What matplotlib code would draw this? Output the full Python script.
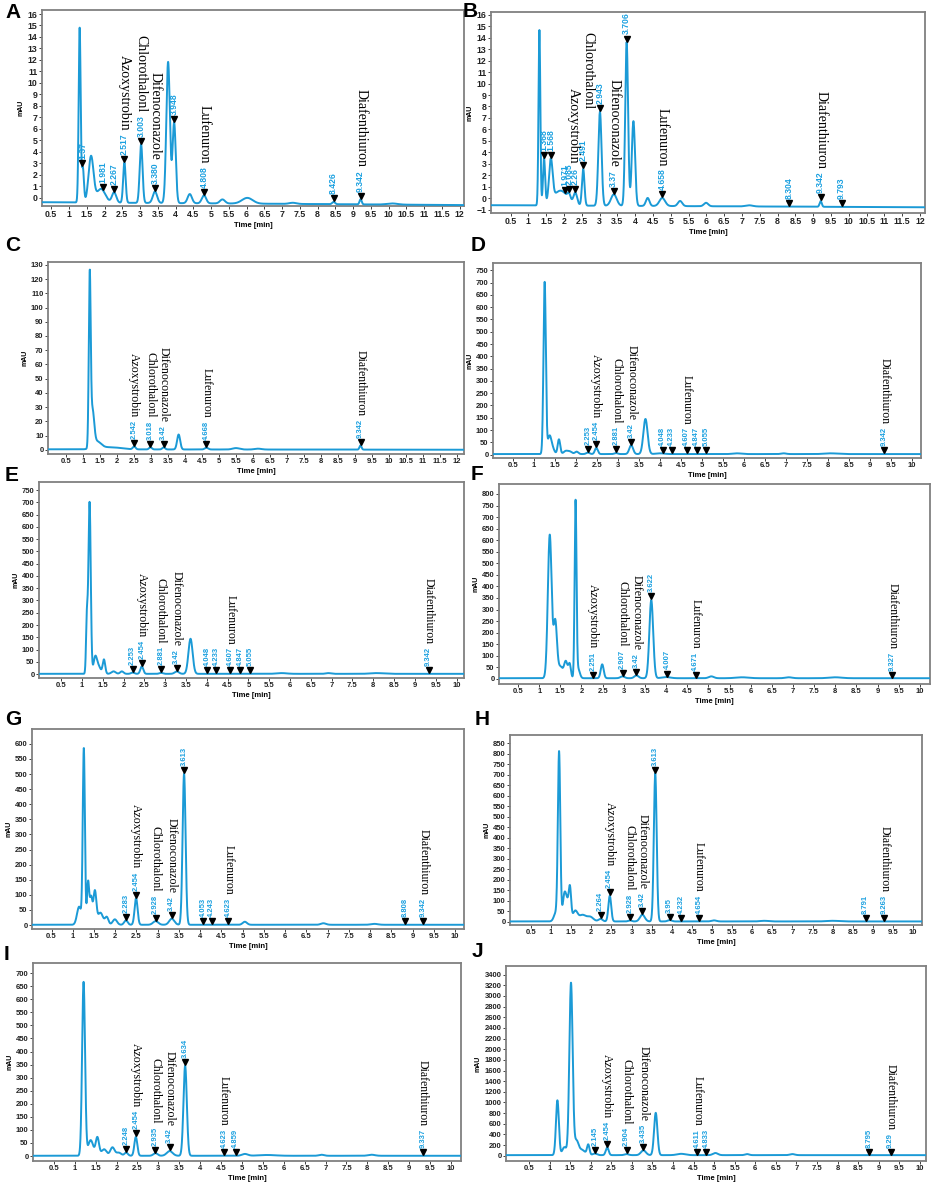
import numpy as np
import matplotlib
matplotlib.use("Agg")
import matplotlib.pyplot as plt
from matplotlib.transforms import offset_copy

TRACE_COLOR = "#1b9ad6"
LABEL_COLOR = "#1aa0e0"
FRAME_COLOR = "#808080"
NAMES = ["Azoxystrobin", "Chlorothalonl", "Difenoconazole", "Lufenuron", "Diafenthiuron"]

# ── Peak tables: retention time, height, width (min) ──
A_RT = [1.30, 1.39, 1.62, 1.90, 2.27, 2.56, 3.03, 3.42, 3.79, 3.96, 4.40, 4.80, 5.32, 6.02, 7.30, 8.45, 9.21, 10.1]
A_H = [15.2, 3.0, 4.0, 1.2, 0.9, 3.5, 5.1, 1.0, 12.3, 7.0, 0.8, 0.7, 0.35, 0.5, 0.1, 0.2, 0.45, 0.1]
A_W = [0.028, 0.03, 0.07, 0.12, 0.06, 0.035, 0.04, 0.06, 0.05, 0.045, 0.06, 0.06, 0.07, 0.15, 0.1, 0.04, 0.03, 0.15]
A_BASE = (-0.4, -0.65)
A_MARK_T = [1.38, 1.97, 2.27, 2.56, 3.03, 3.42, 3.96, 4.80, 8.45, 9.21]
A_MARK_LBL = ["1.37", "1.981", "2.267", "2.517", "3.003", "3.380", "3.948", "4.808", "8.426", "9.342"]
A_NAME_IDX = [3, 4, 5, 7, 9]

B_RT = [1.31, 1.44, 1.63, 1.90, 2.14, 2.32, 2.54, 3.01, 3.40, 3.76, 3.95, 4.35, 4.76, 5.26, 5.99, 7.2, 9.21]
B_H = [15.3, 4.0, 3.6, 1.3, 0.5, 1.0, 3.2, 8.2, 1.0, 14.3, 7.4, 0.7, 0.7, 0.45, 0.3, 0.1, 0.5]
B_W = [0.025, 0.03, 0.05, 0.2, 0.04, 0.05, 0.035, 0.045, 0.08, 0.04, 0.045, 0.05, 0.08, 0.06, 0.06, 0.1, 0.03]
B_BASE = (-0.62, -0.8)
B_MARK_T = [1.44, 1.63, 2.03, 2.14, 2.32, 2.54, 3.01, 3.40, 3.76, 4.76, 8.32, 9.21, 9.80]
B_MARK_LBL = ["1.368", "1.568", "1.971", "2.085", "2.26", "2.491", "2.943", "3.37", "3.706", "4.658", "8.304", "9.342", "9.793"]
B_NAME_IDX = [5, 6, 7, 9, 11]

C_RT = [1.19, 1.27, 1.40, 1.80, 2.50, 2.98, 3.37, 3.81, 4.63, 5.50, 6.15, 9.17]
C_H = [118, 25, 5, 1.5, 2.0, 1.5, 1.5, 10.5, 1.2, 1.0, 0.6, 3.0]
C_W = [0.028, 0.05, 0.12, 0.3, 0.04, 0.04, 0.04, 0.045, 0.05, 0.1, 0.1, 0.03]
C_BASE = (0.3, 0.0)
C_MARK_T = [2.50, 2.98, 3.37, 4.63, 9.17]
C_MARK_LBL = ["2.542", "3.018", "3.42", "4.668", "9.342"]
C_NAME_IDX = [0, 1, 2, 3, 4]

D_RT = [1.25, 1.36, 1.42, 1.59, 1.75, 1.85, 2.01, 2.28, 2.48, 2.95, 3.31, 3.65, 4.0, 5.83, 6.94, 8.06]
D_H = [700, 60, 30, 60, 12, 10, 10, 6, 25, 4, 36, 143, 3, 3, 3, 3]
D_W = [0.028, 0.04, 0.05, 0.03, 0.05, 0.05, 0.04, 0.04, 0.035, 0.04, 0.045, 0.05, 0.1, 0.1, 0.06, 0.15]
D_BASE = (2, 2)
D_MARK_T = [2.28, 2.48, 2.95, 3.31, 4.06, 4.27, 4.63, 4.87, 5.09, 9.34]
D_MARK_LBL = ["2.253", "2.454", "2.881", "3.42", "4.048", "4.233", "4.607", "4.847", "5.055", "9.342"]
D_NAME_IDX = [1, 2, 3, 6, 9]

E_RT = [1.12, 1.185, 1.32, 1.40, 1.53, 1.76, 1.96, 2.22, 2.44, 2.90, 3.28, 3.61, 5.80, 6.92, 8.08]
E_H = [220, 700, 65, 30, 58, 10, 10, 5, 30, 4, 10, 143, 3, 3, 3]
E_W = [0.02, 0.028, 0.04, 0.05, 0.03, 0.05, 0.04, 0.04, 0.035, 0.04, 0.05, 0.05, 0.12, 0.06, 0.15]
E_BASE = (1, 1)
E_MARK_T = [2.22, 2.44, 2.90, 3.28, 4.01, 4.22, 4.57, 4.81, 5.04, 9.33]
E_MARK_LBL = ["2.253", "2.454", "2.881", "3.42", "4.048", "4.233", "4.607", "4.847", "5.055", "9.342"]
E_NAME_IDX = [1, 2, 3, 6, 9]

F_RT = [1.25, 1.38, 1.50, 1.63, 1.72, 1.86, 1.92, 2.49, 2.97, 3.30, 3.65, 4.0, 5.07, 5.8, 6.9, 8.0]
F_H = [620, 240, 50, 70, 60, 760, 40, 60, 8, 12, 338, 5, 8, 4, 4, 4]
F_W = [0.045, 0.04, 0.06, 0.04, 0.03, 0.022, 0.04, 0.035, 0.05, 0.05, 0.045, 0.1, 0.06, 0.15, 0.08, 0.15]
F_BASE = (3, 3)
F_MARK_T = [2.27, 2.97, 3.30, 3.65, 4.03, 4.70, 9.35]
F_MARK_LBL = ["2.251", "2.907", "3.42", "3.622", "4.007", "4.671", "9.327"]
F_NAME_IDX = [0, 1, 2, 5, 6]

G_RT = [1.15, 1.26, 1.36, 1.43, 1.52, 1.65, 1.80, 1.99, 2.25, 2.49, 2.95, 3.33, 3.62, 5.05, 6.9, 8.1]
G_H = [60, 580, 140, 90, 110, 40, 25, 18, 15, 88, 12, 20, 500, 10, 5, 3]
G_W = [0.05, 0.025, 0.025, 0.03, 0.035, 0.06, 0.04, 0.05, 0.04, 0.035, 0.06, 0.06, 0.035, 0.05, 0.06, 0.08]
G_BASE = (1, 1)
G_MARK_T = [2.25, 2.49, 2.95, 3.33, 3.62, 4.07, 4.27, 4.66, 8.82, 9.25]
G_MARK_LBL = ["2.283", "2.454", "2.928", "3.42", "3.613", "4.053", "4.243", "4.623", "8.808", "9.342"]
G_NAME_IDX = [1, 2, 3, 7, 9]

H_RT = [1.12, 1.20, 1.33, 1.40, 1.47, 1.60, 1.78, 1.97, 2.23, 2.46, 2.96, 3.27, 3.59, 3.95, 5.05, 6.3, 8.0]
H_H = [40, 800, 120, 80, 150, 50, 30, 22, 12, 122, 5, 32, 705, 6, 5, 3, 3]
H_W = [0.05, 0.03, 0.04, 0.04, 0.03, 0.06, 0.08, 0.08, 0.05, 0.035, 0.04, 0.06, 0.035, 0.05, 0.06, 0.1, 0.15]
H_BASE = (1, 1)
H_MARK_T = [2.23, 2.46, 2.96, 3.27, 3.59, 3.95, 4.24, 4.68, 8.82, 9.28]
H_MARK_LBL = ["2.264", "2.454", "2.928", "3.42", "3.613", "3.95", "4.232", "4.654", "8.791", "9.263"]
H_NAME_IDX = [1, 2, 3, 7, 9]

I_RT = [1.21, 1.38, 1.54, 1.70, 1.90, 2.05, 2.23, 2.46, 2.93, 3.27, 3.64, 5.07, 5.6, 6.9, 8.1]
I_H = [665, 60, 70, 25, 32, 12, 12, 72, 10, 18, 345, 7, 3, 4, 4]
I_W = [0.035, 0.06, 0.04, 0.06, 0.05, 0.06, 0.04, 0.035, 0.05, 0.07, 0.04, 0.07, 0.2, 0.06, 0.08]
I_BASE = (1, 1)
I_MARK_T = [2.23, 2.46, 2.93, 3.27, 3.64, 4.57, 4.85, 9.33]
I_MARK_LBL = ["2.248", "2.454", "2.935", "3.42", "3.634", "4.623", "4.859", "9.337"]
I_NAME_IDX = [1, 2, 3, 5, 7]

J_RT = [1.19, 1.36, 1.52, 1.65, 1.78, 1.94, 2.10, 2.40, 2.87, 3.28, 3.58, 4.2, 5.03, 5.8, 6.9]
J_H = [1030, 150, 3230, 250, 100, 190, 30, 145, 20, 90, 795, 25, 40, 20, 20]
J_W = [0.035, 0.05, 0.04, 0.05, 0.08, 0.03, 0.05, 0.035, 0.05, 0.06, 0.04, 0.1, 0.06, 0.05, 0.06]
J_BASE = (10, 10)
J_MARK_T = [2.10, 2.40, 2.87, 3.28, 4.59, 4.80, 8.77, 9.29]
J_MARK_LBL = ["2.145", "2.454", "2.904", "3.435", "4.611", "4.833", "8.795", "9.29"]
J_NAME_IDX = [1, 2, 3, 4, 7]

# ── Layout: panel rectangles in pixels (left, top, right, bottom), axis limits ──
PANELS = [
    dict(tag="A", rt=A_RT, h=A_H, w=A_W, base=A_BASE, mt=A_MARK_T, ml=A_MARK_LBL, ni=A_NAME_IDX,
         box=(42, 10, 464, 206), xlim=(0.24, 12.12), ylim=(-0.73, 16.35), yt=(0, 16, 1), xmax=12,
         letter=(5, 3), big=True),
    dict(tag="B", rt=B_RT, h=B_H, w=B_W, base=B_BASE, mt=B_MARK_T, ml=B_MARK_LBL, ni=B_NAME_IDX,
         box=(491, 12, 925, 213), xlim=(-0.05, 12.14), ylim=(-1.3, 16.25), yt=(-1, 16, 1), xmax=12,
         letter=(463, 2), big=True,
         # the first two names sit beside their labels, not above them
         nshift=[(-7, -19), (-8.5, -21), (0, 0), (0, 0), (0, 0)]),
    dict(tag="C", rt=C_RT, h=C_H, w=C_W, base=C_BASE, mt=C_MARK_T, ml=C_MARK_LBL, ni=C_NAME_IDX,
         box=(48, 262, 464, 454), xlim=(-0.04, 12.22), ylim=(-3, 132), yt=(0, 130, 10), xmax=12,
         letter=(5, 236), big=False),
    dict(tag="D", rt=D_RT, h=D_H, w=D_W, base=D_BASE, mt=D_MARK_T, ml=D_MARK_LBL, ni=D_NAME_IDX,
         box=(493, 263, 921, 458), xlim=(0.02, 10.21), ylim=(-14, 780), yt=(0, 750, 50), xmax=10,
         letter=(471, 236), big=False),
    dict(tag="E", rt=E_RT, h=E_H, w=E_W, base=E_BASE, mt=E_MARK_T, ml=E_MARK_LBL, ni=E_NAME_IDX,
         box=(39, 482, 464, 678), xlim=(-0.03, 10.18), ylim=(-16, 783), yt=(0, 750, 50), xmax=10,
         letter=(5, 466), big=False),
    dict(tag="F", rt=F_RT, h=F_H, w=F_W, base=F_BASE, mt=F_MARK_T, ml=F_MARK_LBL, ni=F_NAME_IDX,
         box=(499, 484, 930, 684), xlim=(0.05, 10.24), ylim=(-22, 843), yt=(0, 800, 50), xmax=10,
         letter=(471, 465), big=False),
    dict(tag="G", rt=G_RT, h=G_H, w=G_W, base=G_BASE, mt=G_MARK_T, ml=G_MARK_LBL, ni=G_NAME_IDX,
         box=(32, 729, 464, 929), xlim=(0.04, 10.21), ylim=(-13, 649), yt=(0, 600, 50), xmax=10,
         letter=(5, 710), big=False),
    dict(tag="H", rt=H_RT, h=H_H, w=H_W, base=H_BASE, mt=H_MARK_T, ml=H_MARK_LBL, ni=H_NAME_IDX,
         box=(510, 735, 922, 925), xlim=(-0.02, 10.22), ylim=(-16, 889), yt=(0, 850, 50), xmax=10,
         letter=(475, 710), big=False),
    dict(tag="I", rt=I_RT, h=I_H, w=I_W, base=I_BASE, mt=I_MARK_T, ml=I_MARK_LBL, ni=I_NAME_IDX,
         box=(33, 963, 461, 1161), xlim=(0.0, 10.24), ylim=(-19, 739), yt=(0, 700, 50), xmax=10,
         letter=(4, 945), big=False),
    dict(tag="J", rt=J_RT, h=J_H, w=J_W, base=J_BASE, mt=J_MARK_T, ml=J_MARK_LBL, ni=J_NAME_IDX,
         box=(506, 966, 926, 1161), xlim=(-0.06, 10.15), ylim=(-100, 3563), yt=(0, 3400, 200), xmax=10,
         letter=(472, 942), big=False),
]

W_PX, H_PX = 941, 1190
fig = plt.figure(figsize=(W_PX / 100, H_PX / 100), dpi=100)
fig.patch.set_facecolor("white")


def label_len_pts(s, fs):
    # rough extent of a rotated numeric label (Arial-like digits 0.556em, dot 0.278em)
    return sum(0.278 if c == "." else 0.556 for c in s) * fs


for p in PANELS:
    l, t_, r, b = p["box"]
    ax = fig.add_axes([l / W_PX, 1 - b / H_PX, (r - l) / W_PX, (b - t_) / H_PX])

    t = np.linspace(p["xlim"][0], p["xlim"][1], 4000)
    y = np.linspace(p["base"][0], p["base"][1], t.size)
    for rt, h, w in zip(p["rt"], p["h"], p["w"]):
        y = y + h * np.exp(-0.5 * ((t - rt) / w) ** 2)
    ax.plot(t, y, color=TRACE_COLOR, lw=1.4, zorder=3)

    ax.set_xlim(*p["xlim"])
    ax.set_ylim(*p["ylim"])
    xt = np.arange(0.5, p["xmax"] + 0.01, 0.5)
    ax.set_xticks(xt)
    ax.set_xticklabels([f"{v:g}" for v in xt])
    y0, y1, ys = p["yt"]
    ax.set_yticks(np.arange(y0, y1 + ys * 0.01, ys))

    tfs = 6.3 if p["big"] else 5.5
    ax.tick_params(axis="both", length=2, width=0.6, pad=1.2, labelsize=tfs, colors="#222222")
    for lab in ax.get_xticklabels() + ax.get_yticklabels():
        lab.set_fontweight("bold")
        lab.set_family("Liberation Sans")
    for sp in ax.spines.values():
        sp.set_color(FRAME_COLOR)
        sp.set_linewidth(1.3)
    ax.set_xlabel("Time [min]", fontsize=5.5, fontweight="bold", labelpad=1.5, family="Liberation Sans")
    ax.set_ylabel("mAU", fontsize=5, fontweight="bold", labelpad=2, family="Liberation Sans")

    # peak markers, retention-time labels and compound names
    lfs = 6.2 if p["big"] else 5.5
    nfs = 10 if p["big"] else 8.5
    my = np.interp(p["mt"], t, y)
    mk_tr = offset_copy(ax.transData, fig=fig, x=0, y=2.6, units="points")
    ax.plot(p["mt"], my, linestyle="none", marker="v", ms=4.3, color="black", transform=mk_tr, zorder=5)
    for mt, yy, lbl in zip(p["mt"], my, p["ml"]):
        ax.annotate(lbl, (mt, yy), xytext=(0, 5.5), textcoords="offset points", rotation=90,
                    ha="center", va="bottom", fontsize=lfs, fontweight="bold",
                    color=LABEL_COLOR, family="Liberation Sans", zorder=6)
    shifts = p.get("nshift", [(0, 0)] * len(NAMES))
    for name, idx, (dx, dy) in zip(NAMES, p["ni"], shifts):
        lbl = p["ml"][idx]
        off = 5.5 + label_len_pts(lbl, lfs) + 2
        ax.annotate(name, (p["mt"][idx], my[idx]), xytext=(dx, off + dy), textcoords="offset points",
                    rotation=270, ha="center", va="bottom", fontsize=nfs,
                    family="Liberation Serif", color="black", zorder=6)

    lx, ly = p["letter"]
    fig.text(lx / W_PX, 1 - ly / H_PX, p["tag"], fontsize=15, fontweight="bold",
             family="Liberation Sans", ha="left", va="top")

fig.savefig("out.png", dpi=100, facecolor="white")
